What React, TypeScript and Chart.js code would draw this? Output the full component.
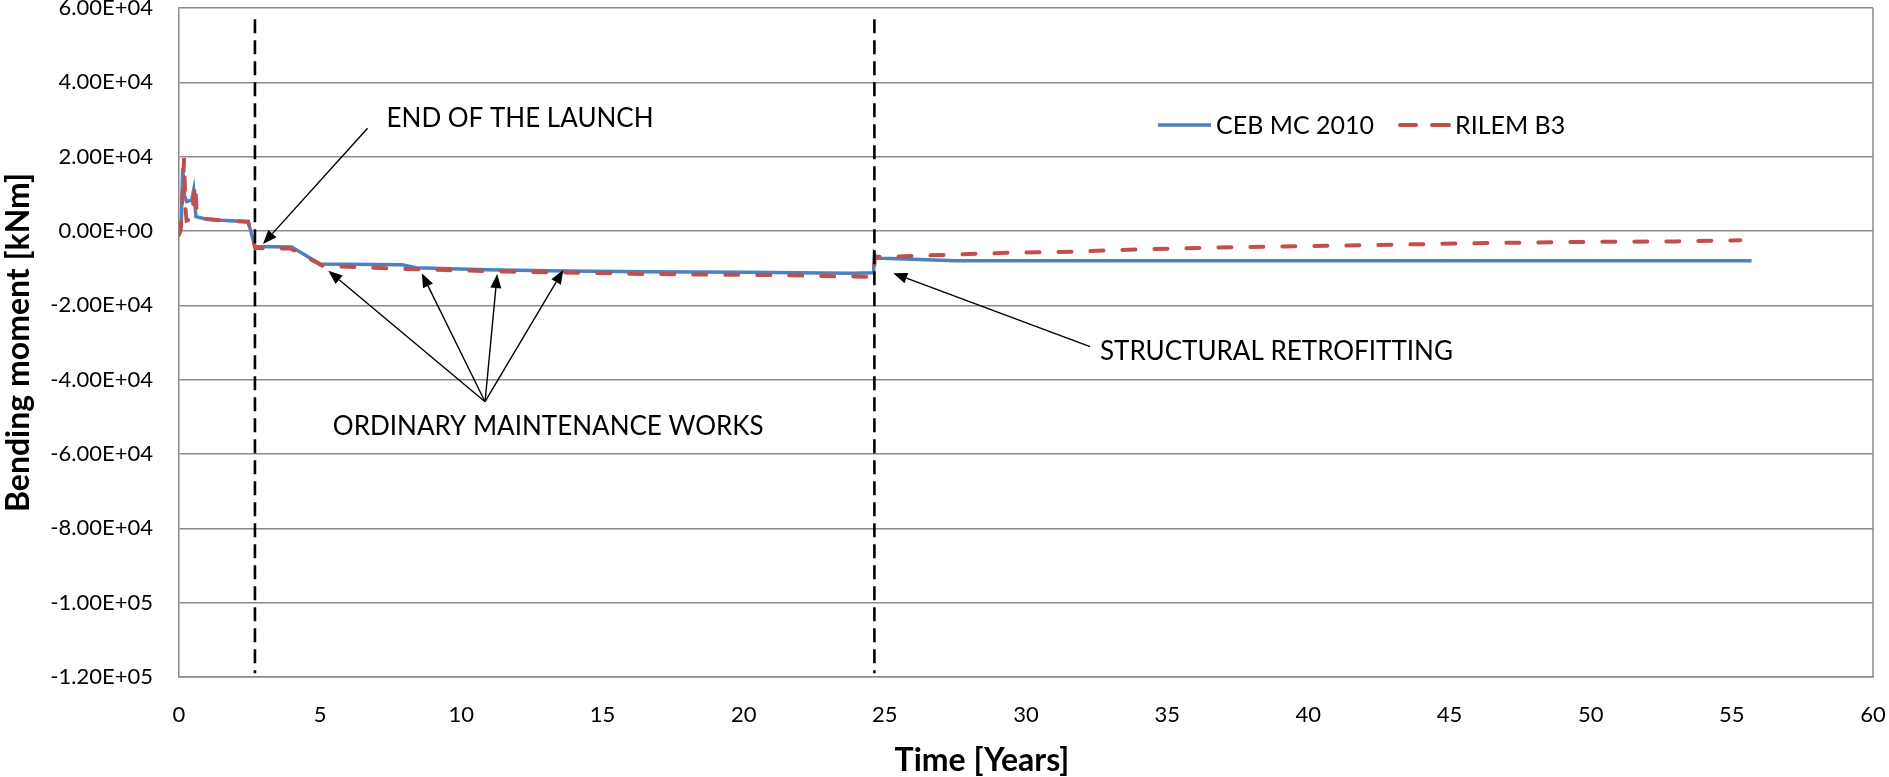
import React, { useEffect, useRef } from "react";
import { Chart, registerables } from "chart.js";

Chart.register(...registerables);

// ---------------- data ----------------
const seriesNames = ["CEB MC 2010", "RILEM B3"];

const cebTime = [0, 0.08, 0.13, 0.2, 0.27, 0.45, 0.52, 0.6, 0.9, 1.5, 2.45, 2.69, 3.99, 5.0, 7.9, 8.4, 10.9, 13.7, 16.5, 20.0, 23.8, 24.6, 24.63, 24.7, 25.2, 27.5, 35, 45, 55.7];
const cebMoment = [0, 1500, 16900, 9500, 7900, 8300, 11000, 3850, 3300, 2900, 2500, -4200, -4300, -8850, -9100, -9900, -10400, -10750, -10950, -11100, -11350, -11250, -6300, -7300, -7400, -8000, -8000, -8000, -8000];

const rilemTime = [0, 0.06, 0.12, 0.18, 0.23, 0.27, 0.45, 0.57, 0.64, 0.9, 1.5, 2.45, 2.7, 3.95, 5.1, 6.3, 8.35, 11.6, 16.5, 21.4, 23.8, 24.6, 24.65, 25.2, 27, 29.3, 31.7, 34, 36.4, 38.8, 41, 45.8, 49.3, 53, 55.3];
const rilemMoment = [-1000, 200, 9000, 19600, 6000, 2800, 3200, 12800, 3600, 3300, 2850, 2500, -4600, -4700, -9400, -9700, -10300, -10900, -11550, -11900, -12250, -12300, -6900, -6900, -6450, -5850, -5550, -4950, -4500, -4200, -3950, -3300, -2950, -2800, -2500];

const eventTime = [2.69, 24.63];
const eventMomentRange = [57000, -119000];

const xTickValues = [0, 5, 10, 15, 20, 25, 30, 35, 40, 45, 50, 55, 60];
const yTickValues = [60000, 40000, 20000, 0, -20000, -40000, -60000, -80000, -100000, -120000];

const noteTexts = ["END OF THE LAUNCH", "ORDINARY MAINTENANCE WORKS", "STRUCTURAL RETROFITTING"];
const noteTime = [7.35, 5.45, 32.62];
const noteMoment = [27980, -54890, -34710];

const arrowFromTime = [6.68, 10.84, 10.84, 10.84, 10.84, 32.27];
const arrowFromMoment = [27630, -45930, -45930, -45930, -45930, -31130];
const arrowToTime = [2.975, 5.29, 8.6, 11.27, 13.61, 25.3];
const arrowToMoment = [-3500, -10680, -11380, -11570, -10490, -11380];

const xTitle = "Time [Years]";
const yTitle = "Bending moment [kNm]";

// ---------------- styles ----------------
const BLUE = "#4F81BD";
const RED = "#C0504D";
const GRID = "#8a8a8a";
const TEXT = "#000000";
const FONT = "Lato, 'Open Sans', sans-serif";

const fmtE = (v: number) => {
  const [m, e] = Number(v).toExponential(2).split("e");
  const n = parseInt(e, 10);
  return `${m}E${n < 0 ? "-" : "+"}${String(Math.abs(n)).padStart(2, "0")}`;
};

const overlay = {
  id: "overlay",
  afterDatasetsDraw(chart: any) {
    const { ctx, chartArea: a, scales } = chart;
    const x = scales.x;
    const y = scales.y;
    ctx.save();
    // right border of plot area
    ctx.strokeStyle = GRID;
    ctx.lineWidth = 1.5;
    ctx.beginPath();
    ctx.moveTo(a.right, a.top);
    ctx.lineTo(a.right, a.bottom);
    ctx.stroke();

    // arrows
    ctx.strokeStyle = "#000";
    ctx.fillStyle = "#000";
    ctx.lineWidth = 1.4;
    for (let i = 0; i < arrowFromTime.length; i++) {
      const x0 = x.getPixelForValue(arrowFromTime[i]);
      const y0 = y.getPixelForValue(arrowFromMoment[i]);
      const x1 = x.getPixelForValue(arrowToTime[i]);
      const y1 = y.getPixelForValue(arrowToMoment[i]);
      const ang = Math.atan2(y1 - y0, x1 - x0);
      const L = 14;
      const W = 5.5;
      const bx = x1 - L * Math.cos(ang);
      const by = y1 - L * Math.sin(ang);
      ctx.beginPath();
      ctx.moveTo(x0, y0);
      ctx.lineTo(bx, by);
      ctx.stroke();
      ctx.beginPath();
      ctx.moveTo(x1, y1);
      ctx.lineTo(bx + W * Math.sin(ang), by - W * Math.cos(ang));
      ctx.lineTo(bx - W * Math.sin(ang), by + W * Math.cos(ang));
      ctx.closePath();
      ctx.fill();
    }

    // note texts
    ctx.font = `26px ${FONT}`;
    ctx.fillStyle = TEXT;
    ctx.textAlign = "left";
    ctx.textBaseline = "alphabetic";
    for (let i = 0; i < noteTexts.length; i++) {
      ctx.fillText(noteTexts[i], x.getPixelForValue(noteTime[i]), y.getPixelForValue(noteMoment[i]));
    }
    ctx.restore();
  },
  afterDraw(chart: any) {
    const { ctx, chartArea: a } = chart;
    ctx.save();
    // legend
    const ly = a.top + 117;
    const lx = a.left + 979;
    ctx.lineWidth = 3.5;
    ctx.strokeStyle = BLUE;
    ctx.beginPath();
    ctx.moveTo(lx, ly);
    ctx.lineTo(lx + 53, ly);
    ctx.stroke();
    ctx.font = `25px ${FONT}`;
    ctx.fillStyle = TEXT;
    ctx.textBaseline = "middle";
    ctx.textAlign = "left";
    ctx.fillText(seriesNames[0], lx + 58, ly + 1);

    const rx = a.left + 1219;
    ctx.strokeStyle = RED;
    ctx.lineWidth = 4;
    ctx.lineCap = "round";
    ctx.beginPath();
    ctx.moveTo(rx + 2, ly);
    ctx.lineTo(rx + 18, ly);
    ctx.moveTo(rx + 34, ly);
    ctx.lineTo(rx + 51, ly);
    ctx.stroke();
    ctx.fillText(seriesNames[1], rx + 57, ly + 1);

    // x axis title
    ctx.font = `bold 32px ${FONT}`;
    ctx.textAlign = "center";
    ctx.textBaseline = "alphabetic";
    ctx.fillText(xTitle, a.left + 803, 771);
    ctx.restore();
  },
};

export default function App() {
  const ref = useRef<HTMLCanvasElement | null>(null);
  useEffect(() => {
    if (!ref.current) return;
    const pts = (ts: number[], vs: number[]) => ts.map((t, i) => ({ x: t, y: vs[i] }));
    const eventSets = eventTime.map((t, i) => ({
      label: `event${i}`,
      data: [
        { x: t, y: eventMomentRange[0] },
        { x: t, y: eventMomentRange[1] },
      ],
      showLine: true,
      borderColor: "#000",
      borderWidth: 2.6,
      borderDash: [14, 7],
      pointRadius: 0,
      order: -1,
    }));
    const chart = new Chart(ref.current, {
      type: "scatter",
      data: {
        datasets: [
          ...eventSets,
          {
            label: seriesNames[1],
            data: pts(rilemTime, rilemMoment),
            showLine: true,
            borderColor: RED,
            borderWidth: 4,
            borderDash: [13, 19],
            borderCapStyle: "round",
            pointRadius: 0,
            order: 0,
          },
          {
            label: seriesNames[0],
            data: pts(cebTime, cebMoment),
            showLine: true,
            borderColor: BLUE,
            borderWidth: 3.5,
            pointRadius: 0,
            order: 1,
          },
        ] as any,
      },
      options: {
        responsive: false,
        animation: false,
        events: [],
        layout: { padding: { top: 8, right: 16, left: 0, bottom: 0 } },
        plugins: { legend: { display: false }, tooltip: { enabled: false } },
        scales: {
          x: {
            type: "linear",
            min: 0,
            max: 60,
            afterBuildTicks: (s: any) => {
              s.ticks = xTickValues.map((v) => ({ value: v }));
            },
            afterFit: (s: any) => {
              s.height = 100;
              s.paddingLeft = 0;
              s.paddingRight = 0;
            },
            grid: { display: false, drawTicks: false },
            border: { display: true, color: GRID, width: 1.5 },
            ticks: {
              padding: 25,
              autoSkip: false,
              maxRotation: 0,
              color: TEXT,
              font: { family: FONT, size: 22 },
            },
          },
          y: {
            type: "linear",
            min: -120000,
            max: 60000,
            afterBuildTicks: (s: any) => {
              s.ticks = yTickValues.map((v) => ({ value: v }));
            },
            afterFit: (s: any) => {
              s.width = 179;
              s.paddingTop = 0;
              s.paddingBottom = 0;
            },
            grid: { color: GRID, lineWidth: 1.5, drawTicks: false },
            border: { display: true, color: GRID, width: 1.5 },
            ticks: {
              padding: 26,
              autoSkip: false,
              color: TEXT,
              font: { family: FONT, size: 22 },
              callback: (v: any) => fmtE(Number(v)),
            },
            title: {
              display: true,
              text: yTitle,
              color: TEXT,
              padding: -1,
              font: { family: FONT, size: 32, weight: "bold" },
            },
          },
        },
      } as any,
      plugins: [overlay],
    });
    return () => chart.destroy();
  }, []);
  return (
    <div style={{ position: "fixed", left: 0, top: 0, width: 1889, height: 777, background: "#fff" }}>
      <canvas ref={ref} width={1889} height={777} style={{ display: "block" }} />
    </div>
  );
}
